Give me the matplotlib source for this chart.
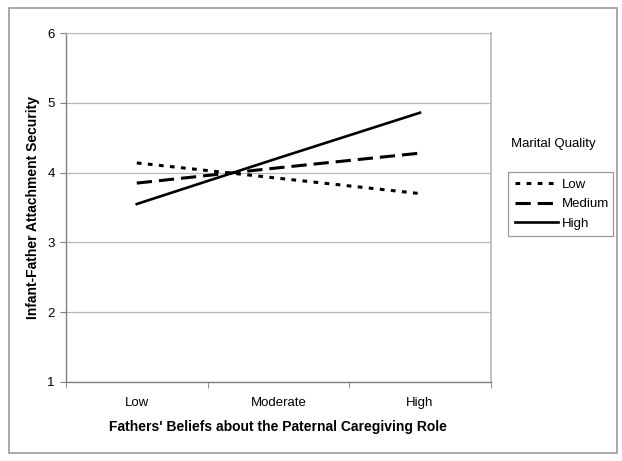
import matplotlib
matplotlib.use("Agg")
import matplotlib.pyplot as plt
from matplotlib.patches import Rectangle

plt.rcParams['font.family'] = ['Liberation Sans', 'DejaVu Sans']
plt.rcParams['lines.scale_dashes'] = False

categories = ["Low", "Moderate", "High"]
series_names = ["Low", "Medium", "High"]
low_vals = [4.14, 3.92, 3.70]
medium_vals = [3.85, 4.07, 4.28]
high_vals = [3.55, 4.21, 4.86]
yticks = [1, 2, 3, 4, 5, 6]

fig = plt.figure(figsize=(6.22, 4.61), dpi=100)
W, H = 622, 461
ax = fig.add_axes([66 / W, 1 - 381.7 / H, (490.7 - 66) / W, (381.7 - 33.3) / H])

x = list(range(len(categories)))
ax.plot(x, low_vals, color='black', lw=2.2, dashes=(3.4, 4.6), dash_capstyle='butt', label=series_names[0])
ax.plot(x, medium_vals, color='black', lw=2.2, dashes=(11, 5), label=series_names[1])
ax.plot(x, high_vals, color='black', lw=1.9, label=series_names[2])

ax.set_xlim(-0.5, 2.5)
ax.set_ylim(1, 6)
ax.set_yticks(yticks)
ax.set_xticks(x)
ax.set_xticklabels(categories)
ax.set_xticks([0.5, 1.5, 2.5, -0.5], minor=True)
ax.tick_params(axis='x', which='major', length=0, pad=11, labelsize=9.5)
ax.tick_params(axis='x', which='minor', length=4, color='#808080', direction='out')
ax.tick_params(axis='y', length=4, color='#808080', labelsize=9.5, pad=4)
ax.yaxis.grid(True, color='#b8b8b8', lw=0.9)
ax.set_axisbelow(True)
for s in ['left', 'bottom']:
    ax.spines[s].set_color('#808080')
    ax.spines[s].set_linewidth(1.0)
ax.spines['top'].set_color('#b8b8b8')
ax.spines['right'].set_color('#b8b8b8')
ax.spines['right'].set_linewidth(1.2)

ax.set_xlabel("Fathers' Beliefs about the Paternal Caregiving Role", fontsize=10, fontweight='bold', labelpad=8)
ax.set_ylabel("Infant-Father Attachment Security", fontsize=10, fontweight='bold', labelpad=5)

fig.text(511 / W, 1 - 144 / H, "Marital Quality", fontsize=9.5, va='center', ha='left')
leg = ax.legend(loc='upper left', bbox_to_anchor=(508 / W, 1 - 240 / H, 105 / W, 68 / H),
                bbox_transform=fig.transFigure, mode='expand', frameon=True, fancybox=False,
                edgecolor='#808080', fontsize=9.5, handlelength=3.3, handletextpad=0.3,
                borderpad=0.5, labelspacing=0.55, borderaxespad=0)
leg.get_frame().set_linewidth(0.9)

fig.add_artist(Rectangle((8.5 / W, 1 - 452.5 / H), (617 - 8.5) / W, (452.5 - 8.5) / H,
                         transform=fig.transFigure, fill=False, edgecolor='#999999', lw=1.2))

fig.savefig("out.png", dpi=100)
